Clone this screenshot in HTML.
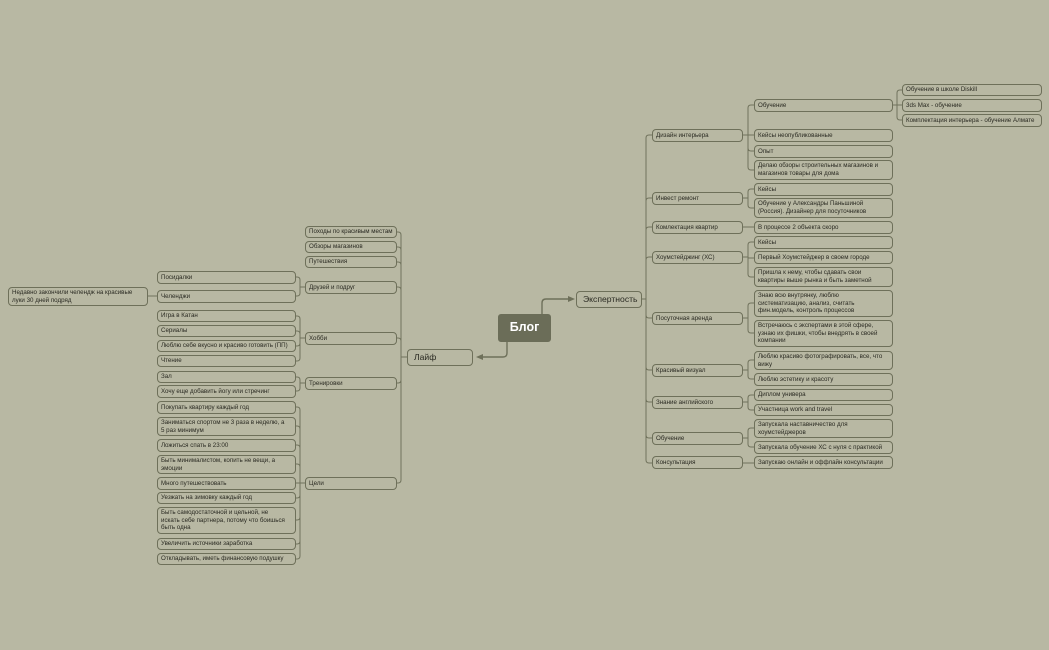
<!DOCTYPE html>
<html><head><meta charset="utf-8"><style>
html,body{margin:0;padding:0;}
body{width:1049px;height:650px;background:#b8b8a3;position:relative;overflow:hidden;font-family:"Liberation Sans",sans-serif;}
.b{position:absolute;box-sizing:border-box;border:1.2px solid #6e705a;border-radius:4px;font-size:6.2px;color:#2a2a22;padding:0 3px;line-height:7.6px;display:flex;align-items:center;white-space:nowrap;overflow:hidden;}
.b span{display:block;}
.r{left:754px;width:139px;}
.l1r{left:652px;width:91px;}
.l3r{left:902px;width:140px;}
.l1l{left:305px;width:92px;}
.l2l{left:157px;width:139px;}
svg{position:absolute;left:0;top:0;}
</style></head><body>
<svg id="s" width="1049" height="650"></svg>
<div class="b" style="left:498px;top:314px;width:53px;height:28px;background:#6b6d58;border-color:#6b6d58;color:#fff;font-weight:bold;font-size:12.5px;justify-content:center;border-radius:3px;">Блог</div>
<div class="b" style="left:576px;top:291px;width:66px;height:17px;font-size:8.6px;padding-left:6px;">Экспертность</div>
<div class="b" style="left:407px;top:349px;width:66px;height:17px;font-size:8.6px;padding-left:6px;">Лайф</div>

<div class="b l1r" style="top:129px;height:13px;"><span>Дизайн интерьера</span></div>
<div class="b l1r" style="top:192px;height:13px;"><span>Инвест ремонт</span></div>
<div class="b l1r" style="top:221px;height:13px;"><span>Комлектация квартир</span></div>
<div class="b l1r" style="top:251px;height:13px;"><span>Хоумстейджинг (ХС)</span></div>
<div class="b l1r" style="top:312px;height:13px;"><span>Посуточная аренда</span></div>
<div class="b l1r" style="top:364px;height:13px;"><span>Красивый визуал</span></div>
<div class="b l1r" style="top:396px;height:13px;"><span>Знание английского</span></div>
<div class="b l1r" style="top:432px;height:13px;"><span>Обучение</span></div>
<div class="b l1r" style="top:456px;height:13px;"><span>Консультация</span></div>

<div class="b r" style="top:99px;height:13px;"><span>Обучение</span></div>
<div class="b r" style="top:129px;height:13px;"><span>Кейсы неопубликованные</span></div>
<div class="b r" style="top:145px;height:13px;"><span>Опыт</span></div>
<div class="b r" style="top:160px;height:20px;"><span>Делаю обзоры строительных магазинов и<br>магазинов товары для дома</span></div>
<div class="b r" style="top:183px;height:13px;"><span>Кейсы</span></div>
<div class="b r" style="top:198px;height:20px;"><span>Обучение у Александры Паньшиной<br>(Россия). Дизайнер для посуточников</span></div>
<div class="b r" style="top:221px;height:13px;"><span>В процессе 2 объекта скоро</span></div>
<div class="b r" style="top:236px;height:13px;"><span>Кейсы</span></div>
<div class="b r" style="top:251px;height:13px;"><span>Первый Хоумстейджер в своем городе</span></div>
<div class="b r" style="top:267px;height:20px;"><span>Пришла к нему, чтобы сдавать свои<br>квартиры выше рынка и быть заметной</span></div>
<div class="b r" style="top:290px;height:27px;"><span>Знаю всю внутрянку, люблю<br>систематизацию, анализ, считать<br>фин.модель, контроль процессов</span></div>
<div class="b r" style="top:320px;height:27px;"><span>Встречаюсь с экспертами в этой сфере,<br>узнаю их фишки, чтобы внедрять в своей<br>компании</span></div>
<div class="b r" style="top:351px;height:19px;"><span>Люблю красиво фотографировать, все, что<br>вижу</span></div>
<div class="b r" style="top:373px;height:13px;"><span>Люблю эстетику и красоту</span></div>
<div class="b r" style="top:389px;height:12px;"><span>Диплом универа</span></div>
<div class="b r" style="top:404px;height:12px;"><span>Участница work and travel</span></div>
<div class="b r" style="top:419px;height:19px;"><span>Запускала наставничество для<br>хоумстейджеров</span></div>
<div class="b r" style="top:441px;height:13px;"><span>Запускала обучение ХС с нуля с практикой</span></div>
<div class="b r" style="top:456px;height:13px;"><span>Запускаю онлайн и оффлайн консультации</span></div>

<div class="b l3r" style="top:84px;height:12px;"><span>Обучение в школе Diskill</span></div>
<div class="b l3r" style="top:99px;height:13px;"><span>3ds Max - обучение</span></div>
<div class="b l3r" style="top:114px;height:13px;"><span>Комплектация интерьера - обучение Алмате</span></div>

<div class="b l1l" style="top:226px;height:12px;"><span>Походы по красивым местам</span></div>
<div class="b l1l" style="top:241px;height:12px;"><span>Обзоры магазинов</span></div>
<div class="b l1l" style="top:256px;height:12px;"><span>Путешествия</span></div>
<div class="b l1l" style="top:281px;height:13px;"><span>Друзей и подруг</span></div>
<div class="b l1l" style="top:332px;height:13px;"><span>Хобби</span></div>
<div class="b l1l" style="top:377px;height:13px;"><span>Тренировки</span></div>
<div class="b l1l" style="top:477px;height:13px;"><span>Цели</span></div>

<div class="b l2l" style="top:271px;height:13px;"><span>Посидалки</span></div>
<div class="b l2l" style="top:290px;height:13px;"><span>Челенджи</span></div>
<div class="b l2l" style="top:310px;height:12px;"><span>Игра в Катан</span></div>
<div class="b l2l" style="top:325px;height:12px;"><span>Сериалы</span></div>
<div class="b l2l" style="top:340px;height:12px;"><span>Люблю себе вкусно и красиво готовить (ПП)</span></div>
<div class="b l2l" style="top:355px;height:12px;"><span>Чтение</span></div>
<div class="b l2l" style="top:371px;height:12px;"><span>Зал</span></div>
<div class="b l2l" style="top:385px;height:13px;"><span>Хочу еще добавить йогу или стречинг</span></div>
<div class="b l2l" style="top:401px;height:13px;"><span>Покупать квартиру каждый год</span></div>
<div class="b l2l" style="top:417px;height:19px;"><span>Заниматься спортом не 3 раза в неделю, а<br>5 раз минимум</span></div>
<div class="b l2l" style="top:439px;height:13px;"><span>Ложиться спать в 23:00</span></div>
<div class="b l2l" style="top:455px;height:19px;"><span>Быть минималистом, копить не вещи, а<br>эмоции</span></div>
<div class="b l2l" style="top:477px;height:13px;"><span>Много путешествовать</span></div>
<div class="b l2l" style="top:492px;height:12px;"><span>Уезжать на зимовку каждый год</span></div>
<div class="b l2l" style="top:507px;height:27px;"><span>Быть самодостаточной и цельной, не<br>искать себе партнера, потому что боишься<br>быть одна</span></div>
<div class="b l2l" style="top:538px;height:12px;"><span>Увеличить источники заработка</span></div>
<div class="b l2l" style="top:553px;height:12px;"><span>Откладывать, иметь финансовую подушку</span></div>

<div class="b" style="left:8px;top:287px;width:140px;height:19px;"><span>Недавно закончили челендж на красивые<br>луки 30 дней подряд</span></div>

<script>
var s=document.getElementById('s'),d='';
function g(px,py,bx,cx,cys){
  d+='M'+px+','+py+'H'+bx;
  var sg=cx>bx?1:-1;
  cys.forEach(function(cy){
    var r=Math.min(3,Math.abs(cy-py));
    if(r<0.5){d+='M'+bx+','+cy+'H'+cx;return;}
    var v=cy>py?1:-1;
    d+='M'+bx+','+py+'V'+(cy-v*r)+'Q'+bx+','+cy+' '+(bx+sg*r)+','+cy+'H'+cx;
  });
}
g(641,299,646,652,[135,198,227,257,318,370,402,438,463]);
g(742,135,748,754,[105,135,151,170]);
g(892,105,897,902,[90,105,120]);
g(742,198,748,754,[189,208]);
g(742,227,748,754,[227]);
g(742,257,748,754,[242,258,277]);
g(742,318,748,754,[303,333]);
g(742,370,748,754,[360,379]);
g(742,402,748,754,[395,410]);
g(742,438,748,754,[428,447]);
g(742,463,748,754,[463]);
g(407,357,401,396,[232,247,262,287,338,383,483]);
g(305,287,300,295,[277,296]);
g(157,296,152,147,[296]);
g(305,338,300,295,[316,331,346,361]);
g(305,383,300,295,[377,391]);
g(305,483,300,295,[407,426,445,464,483,498,520,544,559]);
var p='<path d="'+d+'" fill="none" stroke="#70725c" stroke-width="1"/>';
p+='<path d="M542,314V303Q542,299 546,299H569" fill="none" stroke="#6e705a" stroke-width="1.4"/><path d="M568,296L575,299L568,302Z" fill="#6e705a"/>';
p+='<path d="M507,342V353Q507,357 503,357H482" fill="none" stroke="#6e705a" stroke-width="1.4"/><path d="M483,354L476,357L483,360Z" fill="#6e705a"/>';
s.innerHTML=p;
</script>
</body></html>
